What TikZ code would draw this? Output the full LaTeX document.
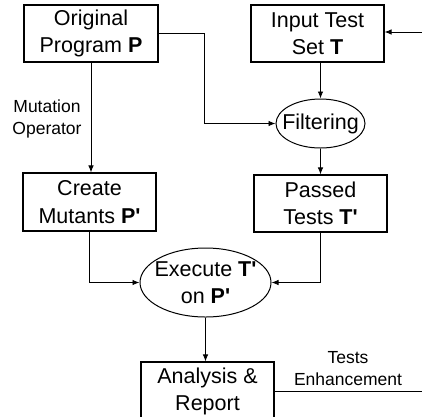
\documentclass[tikz,border=0pt]{standalone}
\usepackage{fontspec}
\newfontfamily\af{Liberation Sans}
\usetikzlibrary{shapes.geometric,arrows.meta}
\begin{document}
\begin{tikzpicture}[x=1pt,y=-1pt,
  big/.style={font={\af\fontsize{21.5}{27.5}\selectfont},align=center},
  small/.style={font={\af\fontsize{17.5}{22}\selectfont},align=center,inner sep=0pt},
  stepbox/.style={big,draw,line width=1.1pt,rectangle,inner sep=0pt,minimum width=133pt,minimum height=57pt},
  oval/.style={big,draw,line width=1pt,ellipse},
  conn/.style={line width=0.9pt,-{Latex[length=7pt,width=5.5pt]}},
  plain/.style={line width=0.9pt}]
\useasboundingbox (0,0) rectangle (422,416);
\clip (0,0) rectangle (422,416);
\node[stepbox,minimum width=134pt] (orig) at (91,33.5) {Original\\Program \textbf{P}};
\node[stepbox] (input) at (317.5,33.5) {Input Test\\Set \textbf{T}};
\node[oval,minimum width=89pt,minimum height=49pt,inner xsep=-14pt,inner ysep=-2pt] (filter) at (320.5,123.5) {Filtering};
\node[stepbox,minimum height=58pt] (create) at (89.5,202) {Create\\Mutants \textbf{P'}};
\node[stepbox] (passed) at (320.5,203.5) {Passed\\Tests \textbf{T'}};
\node[oval,minimum width=131pt,minimum height=69pt,inner xsep=-14pt,inner ysep=-4pt] (exec) at (205.5,282.5) {Execute \textbf{T'}\\on \textbf{P'}};
\node[stepbox,minimum height=59pt] (analysis) at (207.5,391.5) {Analysis \&\\Report};
\node[small] (mutlbl) at (47,119) {Mutation\\Operator};
\node[small] (enhlbl) at (348,369) {Tests\\Enhancement};
\coordinate (bend) at (204,0);
\coordinate (feed) at (423,32);
\coordinate (out) at (423,391);
\draw[conn] (orig.south) -- (orig.south |- create.north);
\draw[conn] (orig.east) -- (orig.east -| bend) |- (filter.west);
\draw[conn] (feed) -- (input.east |- feed);
\draw[conn] (filter.north |- input.south) -- (filter.north);
\draw[conn] (filter.south) -- (filter.south |- passed.north);
\draw[conn] (create.south) |- (exec.west);
\draw[conn] (passed.south) |- (exec.east);
\draw[conn] (exec.south) -- (exec.south |- analysis.north);
\draw[plain] (analysis.east |- out) -- (out);
\end{tikzpicture}
\end{document}
